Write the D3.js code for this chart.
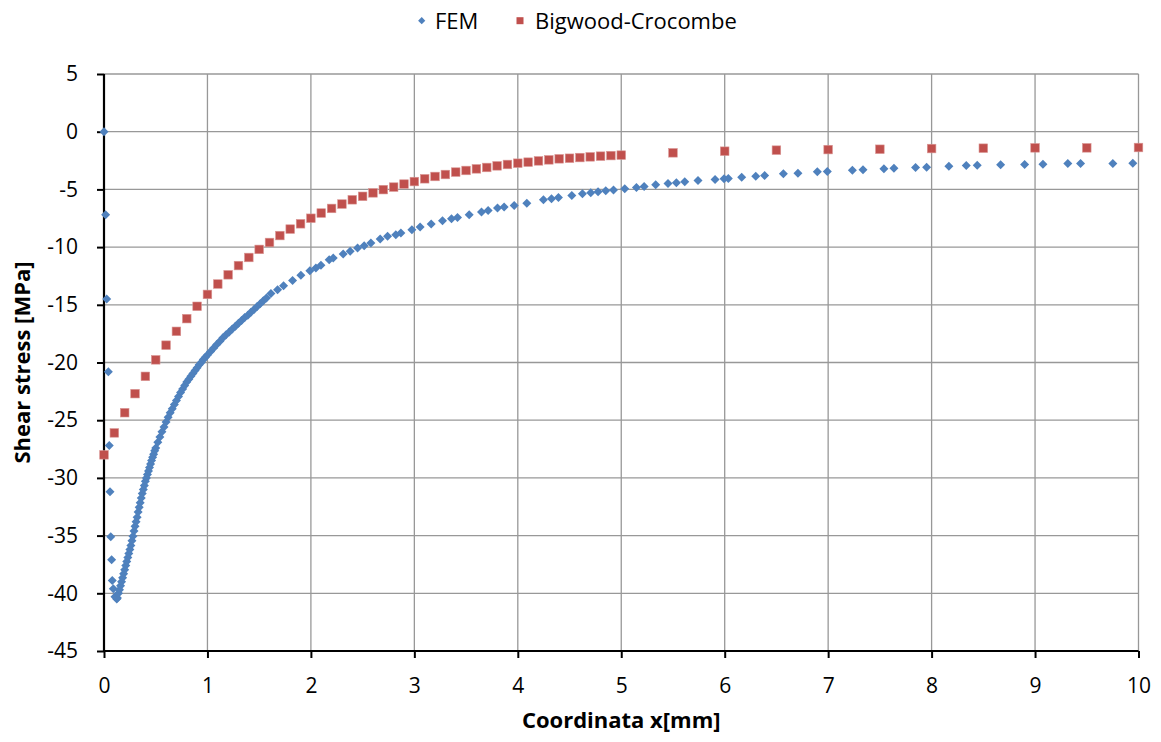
<!DOCTYPE html>
<html>
<head>
<meta charset="utf-8">
<script src="https://cdn.jsdelivr.net/npm/d3@7"></script>
<style>
  html, body { margin: 0; padding: 0; background: #fff; }
  svg { display: block; font-family: "Open Sans", Lato, sans-serif; }
</style>
</head>
<body>
<svg id="chart" width="1161" height="742"></svg>
<script>
// FEM shear stress along the overlap (x in mm, stress in MPa)
const femX = [
  0, 0.016, 0.026, 0.042, 0.051, 0.058, 0.065, 0.074, 0.08, 0.09, 0.106, 0.123,
  0.13, 0.14, 0.15, 0.16, 0.17, 0.18, 0.19, 0.20, 0.21, 0.22, 0.23, 0.24, 0.25,
  0.26, 0.27, 0.28, 0.29, 0.30, 0.31, 0.32, 0.33, 0.34, 0.35, 0.36, 0.37, 0.38,
  0.39, 0.40, 0.41, 0.42, 0.43, 0.44, 0.45, 0.46, 0.47, 0.48, 0.49, 0.50,
  0.52, 0.54, 0.56, 0.58, 0.60, 0.62, 0.64, 0.66, 0.68, 0.70, 0.72, 0.74, 0.76,
  0.78, 0.80, 0.82, 0.84, 0.86, 0.88, 0.90, 0.92, 0.94, 0.96, 0.98, 1.00,
  1.03, 1.06, 1.09, 1.12, 1.15, 1.18, 1.21, 1.24, 1.27, 1.30, 1.33, 1.36, 1.39,
  1.42, 1.45, 1.48, 1.51, 1.54, 1.57, 1.614, 1.678, 1.736, 1.823, 1.903, 1.990,
  2.048, 2.097, 2.177, 2.216, 2.312, 2.380, 2.451, 2.515, 2.580, 2.670, 2.741,
  2.821, 2.870, 2.976, 3.056, 3.163, 3.272, 3.359, 3.417, 3.530, 3.649, 3.713,
  3.804, 3.868, 3.965, 4.087, 4.248, 4.326, 4.393, 4.522, 4.625, 4.705, 4.776,
  4.850, 4.925, 5.034, 5.147, 5.221, 5.333, 5.452, 5.533, 5.614, 5.742, 5.907,
  5.994, 6.035, 6.164, 6.300, 6.386, 6.567, 6.708, 6.895, 6.992, 7.234, 7.337,
  7.539, 7.636, 7.845, 7.952, 8.167, 8.335, 8.441, 8.667, 8.899, 9.076, 9.317,
  9.440, 9.752, 9.945
];
const femY = [
  0, -7.2, -14.5, -20.8, -27.2, -31.2, -35.1, -37.1, -38.9, -39.6, -40.3, -40.5,
  -40.4, -40.0, -39.7, -39.35, -39.0, -38.65, -38.3, -37.95, -37.6, -37.25, -36.9, -36.55, -36.2,
  -35.85, -35.45, -35.05, -34.6, -34.2, -33.8, -33.4, -32.95, -32.55, -32.15, -31.75, -31.35, -31.0,
  -30.65, -30.3, -30.0, -29.7, -29.4, -29.1, -28.8, -28.5, -28.2, -27.95, -27.65, -27.4,
  -26.9, -26.45, -26.0, -25.6, -25.15, -24.75, -24.35, -24.0, -23.65, -23.3, -22.95, -22.6, -22.3,
  -22.0, -21.7, -21.45, -21.2, -20.95, -20.7, -20.45, -20.2, -20.0, -19.75, -19.55, -19.35,
  -19.05, -18.75, -18.45, -18.15, -17.85, -17.6, -17.35, -17.1, -16.85, -16.6, -16.35, -16.1, -15.9,
  -15.65, -15.4, -15.15, -14.9, -14.65, -14.4, -14.03, -13.69, -13.34, -12.9, -12.45, -12.04,
  -11.81, -11.58, -11.09, -10.95, -10.6, -10.37, -10.08, -9.88, -9.65, -9.3, -9.07,
  -8.93, -8.78, -8.49, -8.26, -8.0, -7.72, -7.54, -7.43, -7.2, -6.96, -6.83,
  -6.62, -6.53, -6.39, -6.19, -5.9, -5.81, -5.7, -5.53, -5.38, -5.29, -5.21,
  -5.12, -5.06, -4.95, -4.83, -4.75, -4.6, -4.49, -4.43, -4.34, -4.23, -4.14,
  -4.08, -4.06, -3.94, -3.85, -3.8, -3.65, -3.59, -3.48, -3.45, -3.33, -3.3,
  -3.22, -3.16, -3.1, -3.07, -2.99, -2.93, -2.9, -2.87, -2.84, -2.81, -2.76,
  -2.76, -2.76, -2.73
];

// Bigwood-Crocombe closed-form solution
const bcX = [
  0, 0.1, 0.2, 0.3, 0.4, 0.5, 0.6, 0.7, 0.8, 0.9, 1.0, 1.1, 1.2, 1.3, 1.4, 1.5,
  1.6, 1.7, 1.8, 1.9, 2.0, 2.1, 2.2, 2.3, 2.4, 2.5, 2.6, 2.7, 2.8, 2.9, 3.0,
  3.1, 3.2, 3.3, 3.4, 3.5, 3.6, 3.7, 3.8, 3.9, 4.0, 4.1, 4.2, 4.3, 4.4, 4.5,
  4.6, 4.7, 4.8, 4.9, 5.0, 5.5, 6.0, 6.5, 7.0, 7.5, 8.0, 8.5, 9.0, 9.5, 10.0
];
const bcY = [
  -28.0, -26.1, -24.35, -22.7, -21.2, -19.77, -18.5, -17.3, -16.2, -15.13, -14.1, -13.2, -12.4, -11.6, -10.9, -10.2,
  -9.6, -9.0, -8.44, -7.98, -7.5, -7.05, -6.65, -6.27, -5.9, -5.6, -5.3, -5.02, -4.8, -4.54, -4.32,
  -4.08, -3.88, -3.71, -3.5, -3.36, -3.22, -3.1, -2.96, -2.84, -2.73, -2.64, -2.53, -2.44, -2.35, -2.3,
  -2.24, -2.18, -2.12, -2.07, -2.03, -1.83, -1.69, -1.6, -1.55, -1.52, -1.46, -1.43, -1.4, -1.4, -1.37
];

const xTicks = [0, 1, 2, 3, 4, 5, 6, 7, 8, 9, 10];
const yTicks = [5, 0, -5, -10, -15, -20, -25, -30, -35, -40, -45];
const seriesNames = ["FEM", "Bigwood-Crocombe"];
const seriesColors = ["#4F81BD", "#C0504D"];

const svg = d3.select("#chart");
const plotLeft = 104, plotRight = 1138.5, plotTop = 74, plotBottom = 651;

const x = d3.scaleLinear().domain([0, 10]).range([plotLeft, plotRight]);
const y = d3.scaleLinear().domain([-45, 5]).range([plotBottom, plotTop]);

// gridlines
const grid = svg.append("g").attr("stroke", "#989898").attr("stroke-width", 1.3);
grid.selectAll("line.h").data(yTicks).join("line").attr("class", "h")
  .attr("x1", plotLeft).attr("x2", plotRight)
  .attr("y1", d => y(d)).attr("y2", d => y(d));
grid.selectAll("line.v").data(xTicks).join("line").attr("class", "v")
  .attr("y1", plotTop).attr("y2", plotBottom)
  .attr("x1", d => x(d)).attr("x2", d => x(d));

// axes (plain hyphen for negative numbers)
const fmt = d => String(d);
const xAxis = svg.append("g")
  .attr("transform", `translate(0,${plotBottom})`)
  .call(d3.axisBottom(x).tickValues(xTicks).tickSize(7).tickPadding(20).tickFormat(fmt));
const yAxis = svg.append("g")
  .attr("transform", `translate(${plotLeft},0)`)
  .call(d3.axisLeft(y).tickValues(yTicks).tickSize(7).tickPadding(19).tickFormat(fmt));

[xAxis, yAxis].forEach(g => {
  g.select(".domain").attr("stroke", "#000").attr("stroke-width", 2.2);
  g.selectAll(".tick line").attr("stroke", "#000").attr("stroke-width", 2);
  g.selectAll(".tick text").attr("fill", "#000")
    .style("font-size", "21px").style("font-family", "'Open Sans', sans-serif");
});
xAxis.select(".domain").attr("d", `M${plotLeft},0H${plotRight}`);
yAxis.select(".domain").attr("d", `M0,${plotTop}V${plotBottom}`);

// axis titles
svg.append("text")
  .attr("x", (plotLeft + plotRight) / 2).attr("y", 728)
  .attr("text-anchor", "middle")
  .style("font-size", "22px").style("font-weight", "bold")
  .text("Coordinata x[mm]");
svg.append("text")
  .attr("transform", `translate(30,${(plotTop + plotBottom) / 2}) rotate(-90)`)
  .attr("text-anchor", "middle")
  .style("font-size", "22px").style("font-weight", "bold")
  .text("Shear stress [MPa]");

// markers
const diamond = r => `M0,${-r}L${r},0L0,${r}L${-r},0Z`;
const femData = femX.map((v, i) => ({ x: v, y: femY[i] }));
const bcData = bcX.map((v, i) => ({ x: v, y: bcY[i] }));

svg.append("g").selectAll("path").data(femData).join("path")
  .attr("d", diamond(4.5))
  .attr("transform", d => `translate(${x(d.x)},${y(d.y)})`)
  .attr("fill", seriesColors[0]);

const s = 8.6;
svg.append("g").selectAll("rect").data(bcData).join("rect")
  .attr("x", d => x(d.x) - s / 2).attr("y", d => y(d.y) - s / 2)
  .attr("width", s).attr("height", s)
  .attr("fill", seriesColors[1])
  .attr("stroke", "#d99694").attr("stroke-width", 0.6);

// legend
const legend = svg.append("g").style("font-size", "22px");
legend.append("path").attr("d", diamond(3.6))
  .attr("transform", "translate(421.7,20.7)").attr("fill", seriesColors[0]);
legend.append("text").attr("x", 435).attr("y", 28.5).text(seriesNames[0]);
legend.append("rect").attr("x", 516.5).attr("y", 17.2).attr("width", 7).attr("height", 7)
  .attr("fill", seriesColors[1]);
legend.append("text").attr("x", 535).attr("y", 28.5).text(seriesNames[1]);
</script>
</body>
</html>
